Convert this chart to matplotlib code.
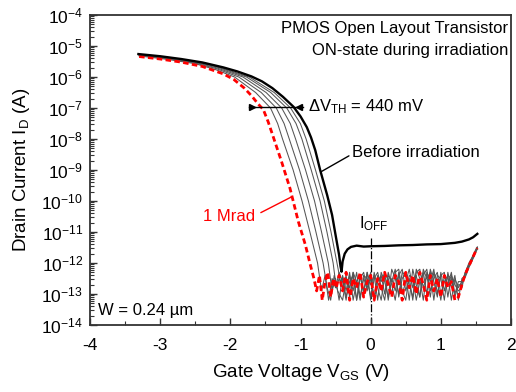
import matplotlib
matplotlib.use("Agg")
import matplotlib.pyplot as plt
import numpy as np

plt.rcParams['font.family'] = ['Liberation Sans', 'DejaVu Sans']
plt.rcParams['mathtext.fontset'] = 'custom'
plt.rcParams['mathtext.rm'] = 'Liberation Sans'
plt.rcParams['mathtext.it'] = 'Liberation Sans:italic'
plt.rcParams['mathtext.bf'] = 'Liberation Sans:bold'

# ---------------- data (log10 of drain current) ----------------
# Before irradiation (thick black)
before_v = [-3.31, -3.00, -2.70, -2.40, -2.10, -1.90, -1.70, -1.55, -1.40, -1.25, -1.10, -1.00, -0.91, -0.85,
            -0.79, -0.72, -0.62, -0.55, -0.50, -0.45, -0.43, -0.415, -0.40, -0.37, -0.33, -0.28, -0.20,
            -0.10, 0.00, 0.20, 0.40, 0.60, 0.80, 1.00, 1.20, 1.30, 1.40, 1.46, 1.52]
before_log = [-5.26, -5.33, -5.42, -5.53, -5.69, -5.82, -5.98, -6.14, -6.36, -6.64, -6.96, -7.27, -7.62, -7.95,
              -8.36, -9.00, -9.81, -10.45, -11.10, -11.74, -12.10, -12.28, -11.95, -11.70, -11.56, -11.48, -11.44,
              -11.47, -11.46, -11.45, -11.43, -11.42, -11.40, -11.39, -11.35, -11.31, -11.24, -11.17, -11.06]

# 1 Mrad (red dashed)
mrad_v = [-3.30, -3.00, -2.70, -2.40, -2.10, -1.95, -1.80, -1.70, -1.60, -1.53, -1.46, -1.39, -1.27, -1.15,
          -1.03, -0.93, -0.86, -0.81, -0.77, -0.73, -0.69, -0.65, -0.61, -0.57, -0.53, -0.49, -0.45]
mrad_log = [-5.34, -5.42, -5.52, -5.66, -5.90, -6.08, -6.36, -6.60, -6.88, -7.05, -7.45, -7.92, -8.73, -9.59,
            -10.67, -11.42, -12.06, -12.49, -12.90, -12.40, -13.20, -12.60, -12.30, -13.10, -12.50, -12.80, -12.40]

# intermediate doses (thin grey), on-state part
g1_v = [-3.30, -2.90, -2.50, -2.20, -1.94, -1.64, -1.427, -1.326, -1.256, -1.105, -0.978, -0.866, -0.757,
        -0.70, -0.65, -0.60, -0.55, -0.50, -0.45]
g1_log = [-5.32, -5.43, -5.57, -5.77, -6.0, -6.5, -7.0, -7.5, -8.0, -9.0, -10.0, -11.0, -12.0,
          -12.9, -12.4, -13.2, -12.5, -12.8, -12.3]
g2_v = [-3.30, -2.90, -2.50, -2.20, -1.88, -1.56, -1.345, -1.234, -1.16, -1.014, -0.887, -0.78, -0.678,
        -0.62, -0.57, -0.52, -0.47]
g2_log = [-5.30, -5.41, -5.55, -5.73, -6.0, -6.5, -7.0, -7.5, -8.0, -9.0, -10.0, -11.0, -12.0,
          -12.8, -13.2, -12.4, -12.9]
g3_v = [-3.30, -2.90, -2.50, -2.20, -1.82, -1.49, -1.268, -1.146, -1.07, -0.928, -0.80, -0.70, -0.604,
        -0.55, -0.50, -0.45]
g3_log = [-5.29, -5.40, -5.53, -5.70, -6.0, -6.5, -7.0, -7.5, -8.0, -9.0, -10.0, -11.0, -12.0,
          -12.9, -12.5, -13.2]
g4_v = [-3.30, -2.90, -2.50, -2.20, -1.77, -1.425, -1.196, -1.064, -0.98, -0.847, -0.721, -0.623, -0.535,
        -0.49, -0.45]
g4_log = [-5.28, -5.38, -5.51, -5.67, -6.0, -6.5, -7.0, -7.5, -8.0, -9.0, -10.0, -11.0, -12.0,
          -12.8, -12.5]
g5_v = [-3.30, -2.90, -2.50, -2.20, -1.73, -1.375, -1.141, -1.002, -0.92, -0.786, -0.66, -0.565, -0.48, -0.43]
g5_log = [-5.27, -5.37, -5.50, -5.65, -6.0, -6.5, -7.0, -7.5, -8.0, -9.0, -10.0, -11.0, -12.0, -12.6]

# off-state noise floor (common gate-voltage samples)
noise_v = [-0.40, -0.35, -0.30, -0.25, -0.20, -0.15, -0.10, -0.05, 0.00, 0.05, 0.10, 0.15, 0.20, 0.25,
           0.30, 0.35, 0.40, 0.45, 0.50, 0.55, 0.60, 0.65, 0.70, 0.75, 0.80, 0.85, 0.90, 0.95, 1.00,
           1.05, 1.10, 1.15, 1.20, 1.25]
mrad_noise = [-12.9, -12.3, -13.2, -12.5, -12.8, -12.3, -13.1, -12.6, -12.4, -13.2, -12.5, -12.9, -12.3, -12.7,
              -13.1, -12.4, -12.6, -13.2, -12.3, -12.8, -12.4, -13.0, -12.3, -12.7, -13.2, -12.4, -12.9,
              -12.5, -13.1, -12.4, -12.8, -12.6, -13.2, -13.1]
g1_noise = [-12.6, -13.2, -12.4, -12.9, -12.3, -13.1, -12.5, -12.8, -12.3, -13.2, -12.6, -12.4, -13.0, -12.3,
            -12.7, -13.2, -12.4, -12.2, -12.9, -12.5, -13.2, -12.3, -12.2, -12.8, -12.4, -13.1, -12.3,
            -12.6, -13.2, -12.4, -12.7, -12.3, -13.0, -12.6]
g2_noise = [-13.2, -12.5, -12.8, -12.3, -13.2, -12.4, -12.9, -12.3, -12.7, -12.4, -13.2, -12.3, -12.6, -13.1,
            -12.2, -12.5, -13.0, -12.3, -12.4, -13.2, -12.2, -12.7, -13.1, -12.2, -12.5, -12.3, -13.2,
            -12.4, -12.5, -13.2, -12.3, -12.8, -12.4, -13.2]
g3_noise = [-12.4, -12.9, -12.3, -13.2, -12.6, -12.4, -13.0, -12.3, -13.2, -12.5, -12.3, -12.8, -13.2, -12.4,
            -12.6, -12.2, -13.1, -12.5, -12.3, -12.7, -13.1, -12.2, -12.5, -13.2, -12.3, -12.6, -12.2,
            -13.0, -12.4, -12.3, -13.1, -12.4, -12.7, -12.9]
g4_noise = [-12.8, -12.4, -13.1, -12.3, -12.6, -13.2, -12.4, -12.5, -13.1, -12.3, -12.8, -13.2, -12.4, -12.5,
            -13.0, -12.3, -12.2, -12.9, -13.2, -12.4, -12.5, -13.2, -12.6, -12.3, -13.0, -12.2, -12.6,
            -13.1, -12.3, -12.9, -12.4, -13.2, -12.5, -12.8]
g5_noise = [-12.5, -13.1, -12.6, -12.4, -13.2, -12.5, -12.3, -12.9, -12.5, -13.1, -12.4, -12.6, -12.3, -13.2,
            -12.5, -12.9, -12.3, -13.0, -12.6, -12.2, -12.8, -12.4, -13.1, -12.4, -12.2, -12.9, -12.5,
            -12.3, -13.0, -12.6, -12.4, -12.5, -13.1, -12.7]

# final rise at positive gate voltage
rise_v = [1.30, 1.35, 1.40, 1.45, 1.50, 1.52]
mrad_rise = [-12.7, -12.35, -12.1, -11.85, -11.6, -11.52]
g1_rise = [-12.6, -12.3, -12.0, -11.8, -11.6, -11.55]
g2_rise = [-12.5, -12.4, -12.1, -11.9, -11.65, -11.55]
g3_rise = [-12.8, -12.3, -12.05, -11.85, -11.6, -11.5]
g4_rise = [-12.6, -12.45, -12.15, -11.9, -11.6, -11.5]
g5_rise = [-12.7, -12.3, -12.1, -11.8, -11.55, -11.48]

# ---------------- figure ----------------
fig = plt.figure(figsize=(5.16, 3.92), dpi=100)
ax = fig.add_axes([90/516, 67/392, 421/516, 310/392])

grey = '#555555'
greys = [(g1_v, g1_log, g1_noise, g1_rise), (g2_v, g2_log, g2_noise, g2_rise),
         (g3_v, g3_log, g3_noise, g3_rise), (g4_v, g4_log, g4_noise, g4_rise),
         (g5_v, g5_log, g5_noise, g5_rise)]
for v, lg, nz, rs in greys:
    vv = list(v) + noise_v + rise_v
    ll = list(lg) + nz + rs
    ax.plot(vv, 10.0 ** np.array(ll), color=grey, lw=0.75, zorder=2)

vv = mrad_v + noise_v + rise_v
ll = mrad_log + mrad_noise + mrad_rise
ax.plot(vv, 10.0 ** np.array(ll), color='#ff0000', lw=2.0, ls=(0, (2.0, 1.2)), zorder=3)

ax.plot(before_v, 10.0 ** np.array(before_log), color='black', lw=1.7, zorder=4)

# I_OFF marker line
ax.plot([0, 0], [1e-14, 10 ** -11.2], color='black', lw=0.9, ls='-.', zorder=1)

ax.set_yscale('log')
ax.set_xlim(-4, 2)
ax.set_ylim(1e-14, 1e-4)

ax.set_xticks([-4, -3, -2, -1, 0, 1, 2])
ax.set_xticklabels(['-4', '-3', '-2', '-1', '0', '1', '2'])
ax.set_xticks([-3.5, -2.5, -1.5, -0.5, 0.5, 1.5], minor=True)
yt = [10.0 ** e for e in range(-14, -3)]
ax.set_yticks(yt)
ax.set_yticklabels(['10$^{%d}$' % e for e in range(-14, -3)])
ax.yaxis.set_minor_locator(matplotlib.ticker.LogLocator(base=10, subs=np.arange(2, 10), numticks=100))
ax.yaxis.set_minor_formatter(matplotlib.ticker.NullFormatter())

ax.tick_params(axis='both', which='major', direction='in', length=5, width=1, labelsize=12.5, color='#333333')
ax.tick_params(axis='both', which='minor', direction='in', length=3, width=0.8, color='#333333')
ax.tick_params(axis='x', which='major', pad=9)
ax.tick_params(axis='y', which='major', pad=5)
for s in ax.spines.values():
    s.set_linewidth(1.3)
    s.set_color('#333333')

ax.set_xlabel('Gate Voltage V$_{\\mathrm{GS}}$ (V)', fontsize=13.5, labelpad=7)
ax.set_ylabel('Drain Current I$_{\\mathrm{D}}$ (A)', fontsize=13.5, labelpad=7)

# annotations
ax.text(0.993, 0.958, 'PMOS Open Layout Transistor', transform=ax.transAxes, ha='right', va='center', fontsize=12)
ax.text(0.993, 0.884, 'ON-state during irradiation', transform=ax.transAxes, ha='right', va='center', fontsize=12)
ax.text(0.019, 0.048, 'W = 0.24 µm', transform=ax.transAxes, ha='left', va='center', fontsize=12)

# delta V_TH arrow
ax.plot([-1.74, -0.97], [10 ** -6.97, 10 ** -6.97], color='black', lw=1.0, zorder=5)
ax.plot([-1.69], [10 ** -6.97], marker='>', color='black', ms=4, zorder=5)
ax.plot([-1.02], [10 ** -6.97], marker='<', color='black', ms=4, zorder=5)
ax.text(-0.90, 10 ** -6.97, 'ΔV$_{\\mathrm{TH}}$ = 440 mV', ha='left', va='center', fontsize=12)

ax.annotate('Before irradiation', xy=(-0.71, 10 ** -9.06), xytext=(-0.27, 10 ** -8.42),
            ha='left', va='center', fontsize=12,
            arrowprops=dict(arrowstyle='-', color='black', lw=1.0, shrinkA=0, shrinkB=0,
                            relpos=(0, 0.35)))
ax.annotate('1 Mrad', xy=(-1.13, 10 ** -9.87), xytext=(-1.64, 10 ** -10.51),
            ha='right', va='center', fontsize=12, color='#ff0000',
            arrowprops=dict(arrowstyle='-', color='#ff0000', lw=1.0, shrinkA=2, shrinkB=0,
                            relpos=(1, 0.6)))
ax.text(0.04, 10 ** -10.74, 'I$_{\\mathrm{OFF}}$', ha='center', va='center', fontsize=12)

fig.savefig('out.png', dpi=100)
